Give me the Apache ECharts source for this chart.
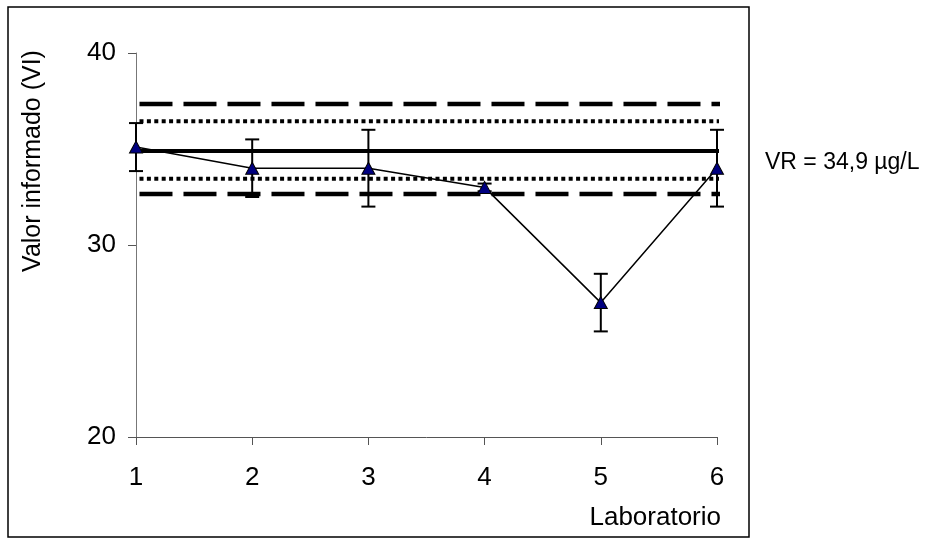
<!DOCTYPE html>
<html>
<head>
<meta charset="utf-8">
<script src="https://cdn.jsdelivr.net/npm/echarts@6/dist/echarts.min.js"></script>
<style>
  html, body { margin: 0; padding: 0; background: #fff; }
  #chart { width: 934px; height: 540px; }
</style>
</head>
<body>
<div id="chart"></div>
<script>
// datos
var labs = [1, 2, 3, 4, 5, 6];
var valores = [35.1, 34, 34, 33, 27, 34];
var errores = [1.25, 1.5, 2, 0.2, 1.5, 2];
var vr = 34.9;
var limInternos = [33.45, 36.45];   // punteadas
var limExternos = [32.65, 37.35];   // rayas
var yTicks = [20, 30, 40];
var lineaX = [1.03, 6.05];

var font = 'Liberation Sans, Arial, sans-serif';

var refLine = function (y, width, dash) {
    return {
        type: 'line',
        data: [[lineaX[0], y], [lineaX[1], y]],
        symbol: 'none',
        clip: false,
        silent: true,
        lineStyle: { color: '#000', width: width, type: dash, cap: 'butt' },
        z: 2
    };
};

var series = [];
series.push(refLine(limExternos[0], 4.5, [33, 11]));
series.push(refLine(limExternos[1], 4.5, [33, 11]));
series.push(refLine(limInternos[0], 4, [4, 3.4]));
series.push(refLine(limInternos[1], 4, [4, 3.4]));
series.push(refLine(vr, 4, 'solid'));

series.push({
    type: 'custom',
    z: 3,
    data: labs.map(function (x, i) {
        return [x, valores[i] - errores[i], valores[i] + errores[i]];
    }),
    renderItem: function (params, api) {
        var lo = api.coord([api.value(0), api.value(1)]);
        var hi = api.coord([api.value(0), api.value(2)]);
        var w = 7;
        var st = { stroke: '#000', lineWidth: 2 };
        return {
            type: 'group',
            children: [
                { type: 'line', shape: { x1: lo[0], y1: lo[1], x2: hi[0], y2: hi[1] }, style: st },
                { type: 'line', shape: { x1: lo[0] - w, y1: lo[1], x2: lo[0] + w, y2: lo[1] }, style: st },
                { type: 'line', shape: { x1: hi[0] - w, y1: hi[1], x2: hi[0] + w, y2: hi[1] }, style: st }
            ]
        };
    }
});

series.push({
    type: 'line',
    z: 4,
    data: labs.map(function (x, i) { return [x, valores[i]]; }),
    symbol: 'triangle',
    symbolSize: [13, 12],
    showAllSymbol: true,
    lineStyle: { color: '#000', width: 1.5 },
    itemStyle: { color: '#000080', borderColor: '#000', borderWidth: 1 }
});

var option = {
    animation: false,
    backgroundColor: '#fff',
    grid: { left: 136, right: 217, top: 53, bottom: 103 },
    xAxis: {
        type: 'value',
        min: 1,
        max: 6,
        interval: 1,
        splitLine: { show: false },
        axisLine: { lineStyle: { color: '#555', width: 1 } },
        axisTick: { show: true, inside: false, length: 8, lineStyle: { color: '#555' } },
        axisLabel: { color: '#000', fontSize: 26, fontFamily: font, margin: 28 }
    },
    yAxis: {
        type: 'value',
        min: yTicks[0],
        max: yTicks[yTicks.length - 1],
        interval: 10,
        splitLine: { show: false },
        axisLine: { show: true, lineStyle: { color: '#777', width: 1 } },
        axisTick: { show: true, inside: false, length: 8, lineStyle: { color: '#555' } },
        axisLabel: { color: '#000', fontSize: 26, fontFamily: font, margin: 20 }
    },
    graphic: [
        {
            type: 'rect',
            shape: { x: 8, y: 7, width: 741, height: 530 },
            style: { fill: 'none', stroke: '#000', lineWidth: 1.5 },
            z: -1
        },
        {
            type: 'text',
            x: 33, y: 161,
            rotation: Math.PI / 2,
            style: {
                text: 'Valor informado (VI)',
                font: '25px ' + font,
                fill: '#000',
                textAlign: 'center',
                textVerticalAlign: 'middle'
            }
        },
        {
            type: 'text',
            x: 721, y: 518,
            style: {
                text: 'Laboratorio',
                font: '26px ' + font,
                fill: '#000',
                textAlign: 'right',
                textVerticalAlign: 'middle'
            }
        },
        {
            type: 'text',
            x: 765, y: 163,
            style: {
                text: 'VR = 34,9 \u00b5g/L',
                font: '23px ' + font,
                fill: '#000',
                textAlign: 'left',
                textVerticalAlign: 'middle'
            }
        }
    ],
    series: series
};

var chart = echarts.init(document.getElementById('chart'));
chart.setOption(option);
</script>
</body>
</html>
